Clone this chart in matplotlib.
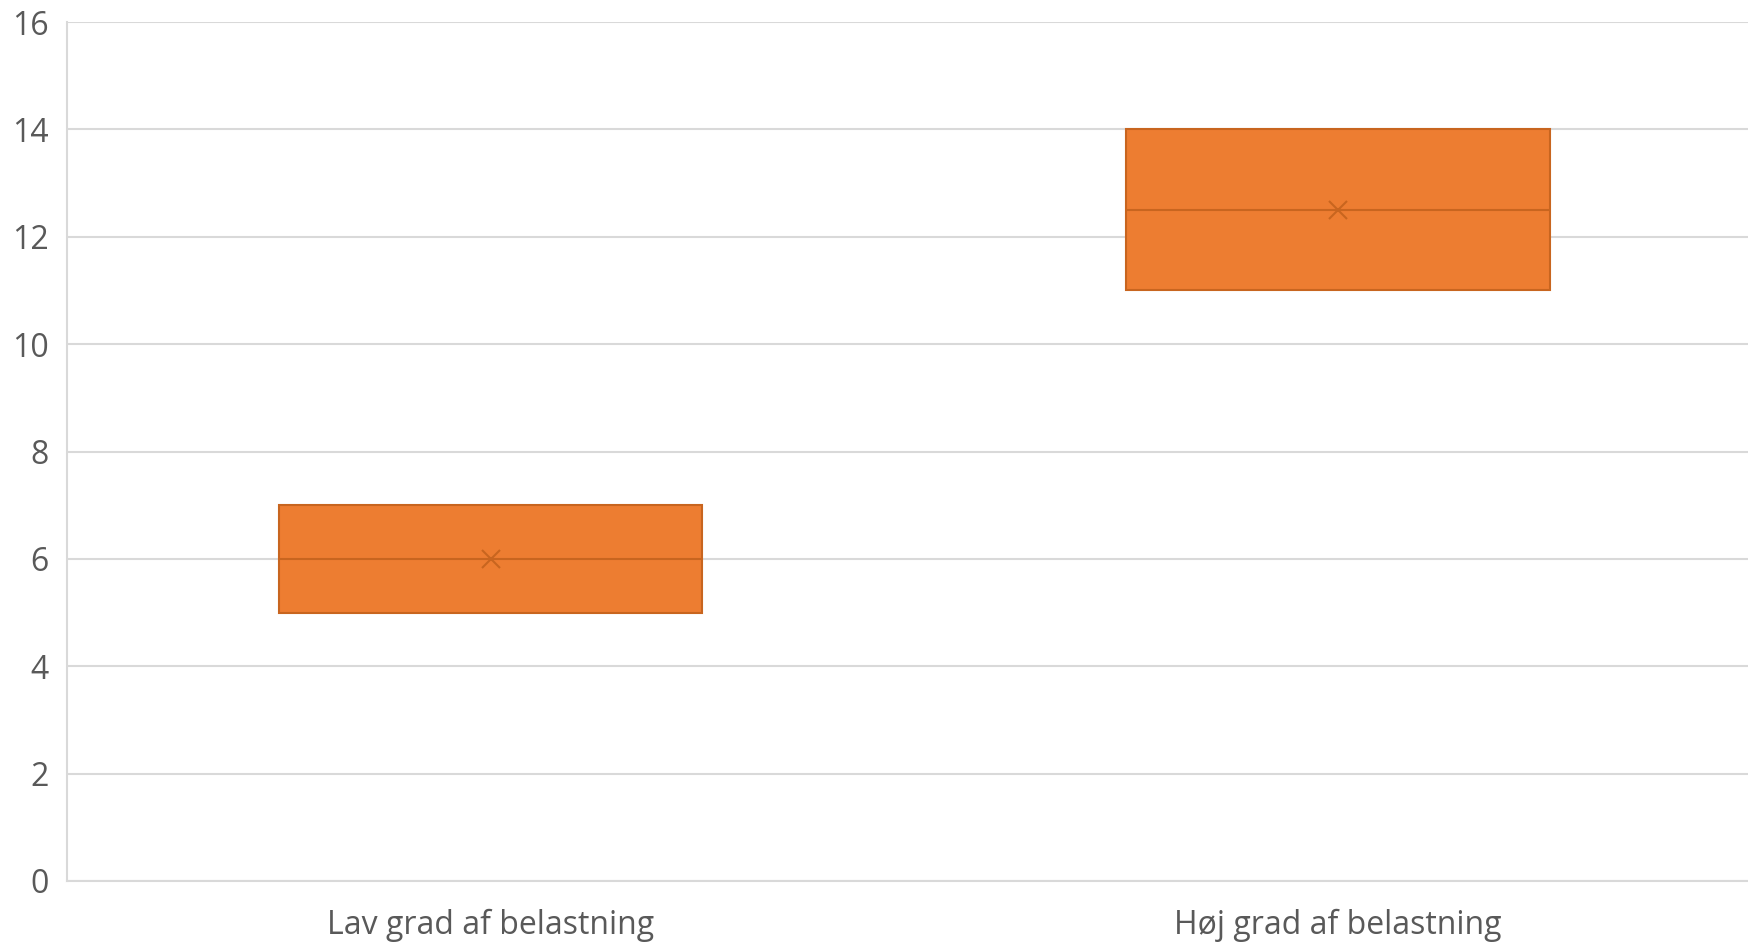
import matplotlib
matplotlib.use("Agg")
import matplotlib.pyplot as plt

categories = ["Lav grad af belastning", "Høj grad af belastning"]
q1 = [5, 11]
median = [6, 12.5]
q3 = [7, 14]
mean = [6, 12.5]
y_ticks = [0, 2, 4, 6, 8, 10, 12, 14, 16]

plt.rcParams['font.family'] = ['Open Sans', 'DejaVu Sans']

fig = plt.figure(figsize=(17.48, 9.42), dpi=100)
ax = fig.add_axes([0.0383, 0.0648, 0.9694, 0.9118])

stats = []
for i, c in enumerate(categories):
    stats.append(dict(label=c, q1=q1[i], med=median[i], q3=q3[i], mean=mean[i],
                      whislo=q1[i], whishi=q3[i], fliers=[]))

fill = "#ED7D31"
edge = "#C8651F"
ax.bxp(stats, positions=[0, 1], widths=0.5, patch_artist=True, showmeans=True,
       showcaps=False,
       boxprops=dict(facecolor=fill, edgecolor=edge, linewidth=1.5),
       medianprops=dict(color=edge, linewidth=1.5),
       whiskerprops=dict(color=edge, linewidth=0),
       meanprops=dict(marker='x', markeredgecolor=edge, markersize=13, markeredgewidth=1.5))

ax.set_xlim(-0.5, 1.5)
ax.set_ylim(0, 16)
ax.set_yticks(y_ticks)
ax.yaxis.grid(True, color="#D9D9D9", linewidth=1.5)
ax.set_axisbelow(True)
for s in ["top", "right"]:
    ax.spines[s].set_visible(False)
for s in ["left", "bottom"]:
    ax.spines[s].set_color("#D9D9D9")
    ax.spines[s].set_linewidth(1.5)
ax.tick_params(axis='y', length=0, pad=13, labelsize=23, labelcolor="#595959")
ax.tick_params(axis='x', length=0, pad=20, labelsize=23, labelcolor="#595959")

fig.savefig("out.png", dpi=100)
